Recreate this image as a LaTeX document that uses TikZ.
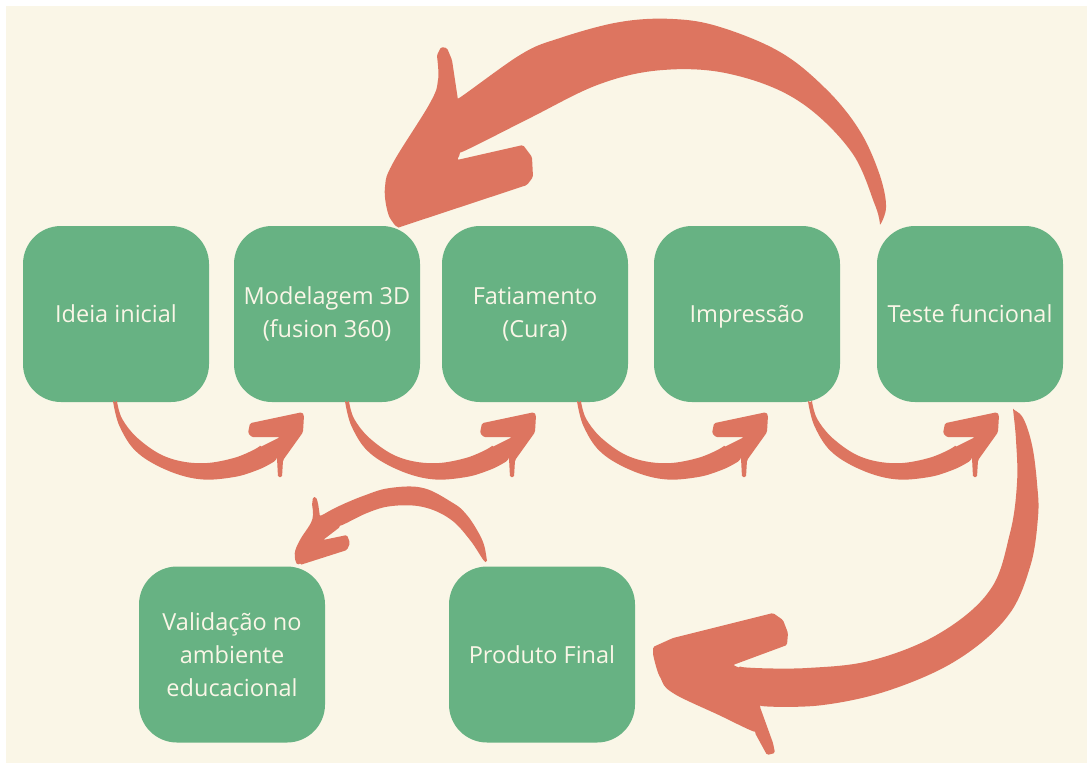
\documentclass[tikz,border=0pt]{standalone}
\usepackage{fontspec}
\setmainfont{Open Sans}
\usetikzlibrary{calc}
\definecolor{paper}{HTML}{FAF6E7}
\definecolor{leaf}{HTML}{67B283}
\definecolor{coral}{HTML}{DD7560}
\begin{document}
\begin{tikzpicture}[x=1pt,y=-1pt,
  stage/.style={fill=leaf, rounded corners=38pt, minimum width=186pt,
    minimum height=176pt, text=paper, align=center, inner sep=0pt,
    font=\fontsize{23.5}{33}\selectfont},
  brush/.style={fill=coral, rounded corners=1.5pt},
  hop/.pic={
    \fill[brush] plot[smooth,tension=.6] coordinates{(0,0) (7,25) (24,50) (54,68) (87,77) (120,75) (144,68) (160,60) (164,56)}
      -- (165,75) -- (169,75) -- (170,58) -- (190,30) -- (191,13) -- (189,10)
      -- (137,21) -- (135,31) -- (139,35) -- (167,35)
      -- plot[smooth,tension=.6] coordinates{(147,45) (120,56) (87,61) (54,55) (27,38) (10,18) (4,0)} -- cycle;
  }]
% page
\fill[white] (0,0) rectangle (1087,764);
\fill[paper] (6,6) rectangle (1087,763);
\useasboundingbox (0,0) rectangle (1087,764);

% process stages
\node[stage] (ideia)   at (116,314)   {Ideia inicial};
\node[stage] (modelo)  at (327,314)   {Modelagem 3D\\(fusion 360)};
\node[stage] (fatia)   at (535,314)   {Fatiamento\\(Cura)};
\node[stage, text height=17.5pt, text depth=0pt] (impr) at (747,314) {Impressão};
\node[stage] (teste)   at (970,314)   {Teste funcional};
\node[stage] (valid)   at (232,654.5) {Validação no\\ambiente\\educacional};
\node[stage] (produto) at (542,654.5) {Produto Final};

% short hops between neighbouring stages
\pic at ($(ideia.south)+(-3,0)$)  {hop};
\pic at ($(modelo.south)+(18,0)$) {hop};
\pic at ($(fatia.south)+(42,0)$)  {hop};
\pic at ($(impr.south)+(61,0)$)   {hop};

% loop back: teste -> modelo
\fill[brush]
  plot[smooth,tension=.6] coordinates{(880,226) (886,205) (878,170) (858,128) (825,88) (780,52) (720,27) (673,19) (620,22) (560,38) (520,55) (458,100)}
  -- (452,60) -- (447,48) -- (441,47) -- (437,55)
  -- plot[smooth,tension=.6] coordinates{(437,57) (438,80) (430,103) (393,163) (385,187) (388,213) (397,228)}
  -- (527,185) -- (533,177) -- (532,157) -- (523,145) -- (457,160)
  -- plot[smooth,tension=.6] coordinates{(460,154) (530,118) (600,84) (663,70) (730,74) (797,100) (850,150) (875,205) (880,226)}
  -- cycle;

% teste -> produto
\fill[brush]
  plot[smooth,tension=.6] coordinates{(1013,410) (1023,418) (1032,445) (1037,483) (1038,517) (1030,567) (1007,617) (957,660) (890,690) (823,705) (760,707)}
  -- (773,743) -- (775,753) -- (767,755) -- (755,733)
  -- plot[smooth,tension=.6] coordinates{(755,733) (723,717) (673,693) (660,677) (653,655)}
  -- (653,647) -- (673,638) -- (773,613) -- (783,620) -- (788,633) -- (787,645) -- (733,665)
  -- plot[smooth,tension=.6] coordinates{(740,668) (807,668) (873,660) (940,633) (990,590) (1010,533) (1017,483) (1016,440) (1013,410)}
  -- cycle;

% produto -> valid
\fill[brush]
  plot[smooth,tension=.6] coordinates{(487,562) (484,545) (477,530) (466,514) (453,503) (423,488) (390,488) (363,496) (335,508) (320,517)}
  -- (318,503) -- (316,497) -- (313,497) -- (312,505)
  -- plot[smooth,tension=.6] coordinates{(312,505) (312,520) (300,540) (295,552) (296,562) (300,565)}
  -- (347,550) -- (350,543) -- (347,535) -- (323,540)
  -- plot[smooth,tension=.6] coordinates{(340,527) (367,513) (392,506) (423,507) (450,519) (470,540) (484,562)}
  -- cycle;
\end{tikzpicture}
\end{document}
